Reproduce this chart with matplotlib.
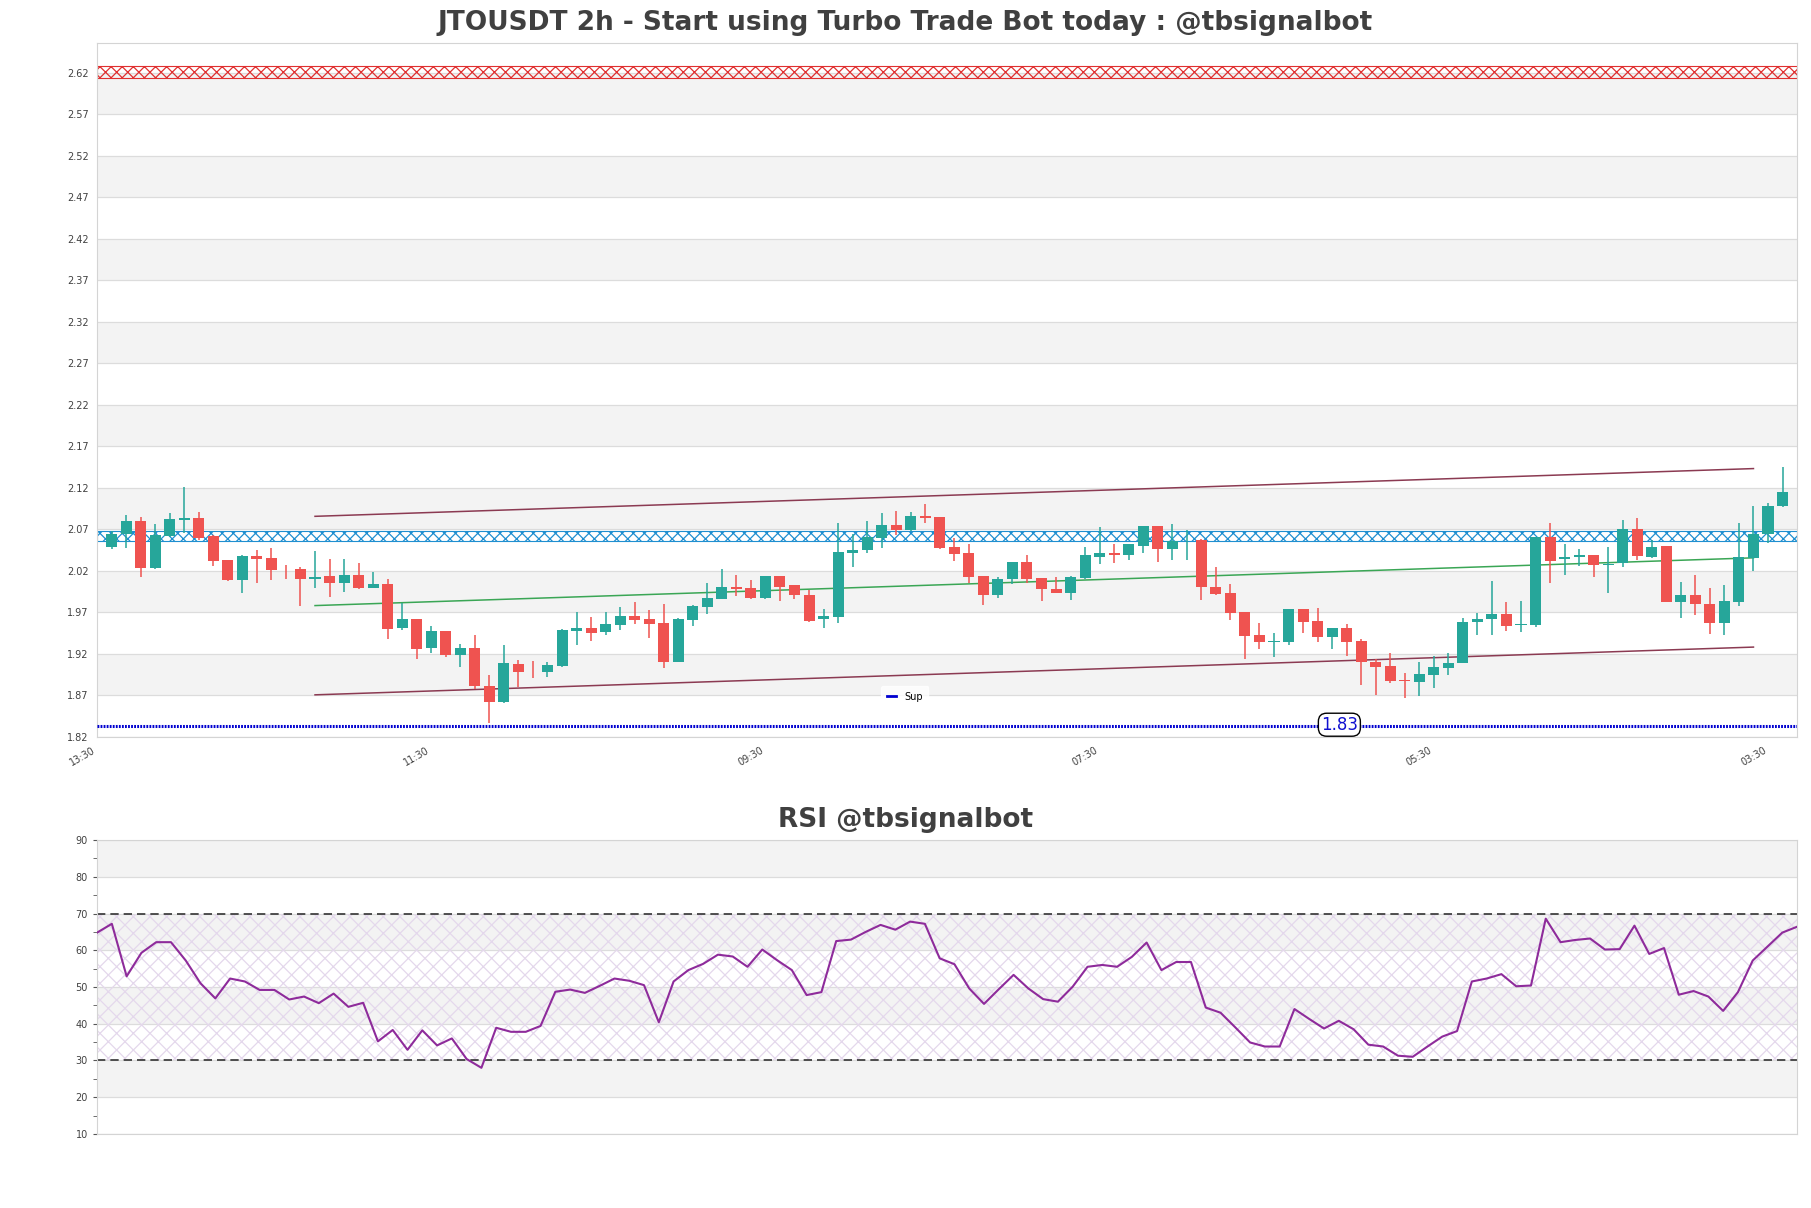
import numpy as np
import matplotlib.pyplot as plt
from matplotlib.ticker import MultipleLocator

title = "JTOUSDT 2h - Start using Turbo Trade Bot today : @tbsignalbot"
rsi_title = "RSI @tbsignalbot"

# OHLC (116 candles, 2h)
opens = [2.0489, 2.0638, 2.0798, 2.0236, 2.0622, 2.0814, 2.0830, 2.0618, 2.0328, 2.0088,
         2.0377, 2.0353, 2.0224, 2.0220, 2.0100, 2.0136, 2.0055, 2.0148, 1.9995, 2.0039,
         1.9509, 1.9614, 1.9268, 1.9473, 1.9188, 1.9268, 1.8810, 1.8618, 1.9075, 1.8995,
         1.8983, 1.9051, 1.9477, 1.9509, 1.9461, 1.9549, 1.9654, 1.9614, 1.9569, 1.9104,
         1.9606, 1.9766, 1.9863, 2.0007, 1.9991, 1.9875, 2.0136, 2.0023, 1.9907, 1.9614,
         1.9646, 2.0417, 2.0445, 2.0598, 2.0750, 2.0690, 2.0855, 2.0847, 2.0485, 2.0409,
         2.0136, 1.9911, 2.0104, 2.0304, 2.0112, 1.9975, 1.9935, 2.0112, 2.0369, 2.0413,
         2.0393, 2.0501, 2.0738, 2.0457, 2.0565, 2.0569, 2.0007, 1.9927, 1.9698, 1.9425,
         1.9341, 1.9345, 1.9734, 1.9594, 1.9405, 1.9505, 1.9353, 1.9096, 1.9051, 1.8879,
         1.8863, 1.8943, 1.9031, 1.9084, 1.9586, 1.9614, 1.9678, 1.9541, 1.9545, 2.0602,
         2.0337, 2.0361, 2.0385, 2.0268, 2.0288, 2.0698, 2.0369, 2.0497, 1.9826, 1.9903,
         1.9798, 1.9573, 1.9826, 2.0357, 2.0638, 2.0979]
highs = [2.0678, 2.0871, 2.0843, 2.0762, 2.0895, 2.1204, 2.0903, 2.0626, 2.0330, 2.0385,
         2.0449, 2.0469, 2.0268, 2.0240, 2.0441, 2.0341, 2.0341, 2.0288, 2.0184, 2.0100,
         1.9814, 1.9614, 1.9533, 1.9473, 1.9316, 1.9425, 1.8943, 1.9304, 1.9124, 1.9112,
         1.9100, 1.9493, 1.9702, 1.9646, 1.9702, 1.9766, 1.9818, 1.9726, 1.9798, 1.9626,
         1.9786, 2.0047, 2.0224, 2.0148, 2.0088, 2.0136, 2.0136, 2.0023, 1.9967, 1.9734,
         2.0770, 2.0642, 2.0798, 2.0891, 2.0919, 2.0907, 2.1003, 2.0847, 2.0590, 2.0517,
         2.0136, 2.0128, 2.0304, 2.0389, 2.0112, 2.0120, 2.0136, 2.0481, 2.0722, 2.0517,
         2.0517, 2.0738, 2.0738, 2.0762, 2.0690, 2.0577, 2.0240, 2.0039, 1.9698, 1.9565,
         1.9445, 1.9734, 1.9742, 1.9746, 1.9505, 1.9557, 1.9373, 1.9132, 1.9204, 1.8963,
         1.9096, 1.9176, 1.9204, 1.9626, 1.9686, 2.0075, 1.9818, 1.9835, 2.0602, 2.0778,
         2.0517, 2.0457, 2.0385, 2.0481, 2.0810, 2.0830, 2.0569, 2.0497, 2.0063, 2.0144,
         1.9995, 2.0027, 2.0778, 2.0979, 2.1011, 2.1453]
lows = [2.0457, 2.0477, 2.0128, 2.0216, 2.0610, 2.0650, 2.0569, 2.0256, 2.0080, 1.9935,
        2.0055, 2.0088, 2.0096, 1.9774, 1.9991, 1.9883, 1.9943, 1.9983, 1.9991, 1.9377,
        1.9485, 1.9136, 1.9204, 1.9164, 1.9043, 1.8770, 1.8369, 1.8610, 1.8794, 1.8907,
        1.8923, 1.9043, 1.9304, 1.9353, 1.9425, 1.9485, 1.9557, 1.9393, 1.9031, 1.9096,
        1.9533, 1.9678, 1.9859, 1.9899, 1.9863, 1.9863, 1.9839, 1.9863, 1.9586, 1.9505,
        1.9573, 2.0248, 2.0409, 2.0477, 2.0630, 2.0682, 2.0770, 2.0465, 2.0320, 2.0047,
        1.9786, 1.9871, 2.0035, 2.0055, 1.9835, 1.9931, 1.9847, 2.0104, 2.0280, 2.0288,
        2.0328, 2.0409, 2.0308, 2.0328, 2.0328, 1.9847, 1.9907, 1.9606, 1.9132, 1.9252,
        1.9164, 1.9304, 1.9453, 1.9345, 1.9252, 1.9176, 1.8822, 1.8702, 1.8843, 1.8662,
        1.8694, 1.8790, 1.8943, 1.9084, 1.9425, 1.9425, 1.9477, 1.9465, 1.9525, 2.0055,
        2.0148, 2.0256, 2.0128, 1.9935, 2.0240, 2.0328, 2.0349, 1.9826, 1.9634, 1.9666,
        1.9437, 1.9425, 1.9774, 2.0200, 2.0537, 2.0971]
closes = [2.0642, 2.0798, 2.0236, 2.0630, 2.0822, 2.0834, 2.0598, 2.0320, 2.0088, 2.0377,
          2.0345, 2.0208, 2.0216, 2.0104, 2.0124, 2.0055, 2.0144, 1.9995, 2.0039, 1.9497,
          1.9614, 1.9256, 1.9473, 1.9188, 1.9268, 1.8810, 1.8618, 1.9092, 1.8983, 1.8987,
          1.9059, 1.9485, 1.9509, 1.9453, 1.9557, 1.9654, 1.9606, 1.9561, 1.9104, 1.9614,
          1.9774, 1.9867, 2.0007, 1.9983, 1.9875, 2.0136, 2.0007, 1.9903, 1.9598, 1.9654,
          2.0421, 2.0449, 2.0606, 2.0750, 2.0690, 2.0859, 2.0834, 2.0477, 2.0405, 2.0128,
          1.9911, 2.0100, 2.0304, 2.0104, 1.9975, 1.9935, 2.0124, 2.0385, 2.0413, 2.0393,
          2.0517, 2.0738, 2.0457, 2.0561, 2.0573, 1.9999, 1.9919, 1.9694, 1.9417, 1.9345,
          1.9349, 1.9734, 1.9586, 1.9405, 1.9505, 1.9345, 1.9096, 1.9043, 1.8875, 1.8871,
          1.8955, 1.9043, 1.9084, 1.9586, 1.9614, 1.9678, 1.9537, 1.9557, 2.0602, 2.0320,
          2.0361, 2.0385, 2.0264, 2.0276, 2.0698, 2.0377, 2.0481, 1.9826, 1.9903, 1.9794,
          1.9573, 1.9835, 2.0361, 2.0638, 2.0979, 2.1148]

rsi = [64.8, 67.2, 52.9, 59.3, 62.2, 62.2, 57.2, 51.0, 46.9, 52.3,
       51.5, 49.2, 49.2, 46.6, 47.4, 45.6, 48.2, 44.6, 45.7, 35.2,
       38.3, 32.9, 38.2, 34.1, 36.0, 30.4, 28.0, 38.9, 37.8, 37.8,
       39.4, 48.7, 49.3, 48.4, 50.3, 52.3, 51.7, 50.5, 40.4, 51.5,
       54.6, 56.3, 58.8, 58.3, 55.5, 60.2, 57.3, 54.6, 47.8, 48.6,
       62.5, 62.9, 65.0, 66.9, 65.6, 67.8, 67.2, 57.8, 56.2, 49.6,
       45.4, 49.4, 53.3, 49.6, 46.7, 46.0, 50.1, 55.5, 56.0, 55.5,
       58.2, 62.1, 54.6, 56.8, 56.8, 44.4, 43.0, 39.0, 34.9, 33.8,
       33.8, 44.0, 41.3, 38.7, 40.8, 38.5, 34.3, 33.8, 31.3, 31.0,
       33.8, 36.5, 38.0, 51.5, 52.3, 53.5, 50.2, 50.4, 68.6, 62.2,
       62.8, 63.2, 60.2, 60.3, 66.7, 59.0, 60.6, 47.9, 48.9, 47.4,
       43.5, 48.6, 57.2, 61.0, 64.8, 66.4]

time_labels = ["13:30", "11:30", "09:30", "07:30", "05:30", "03:30"]
label_step = 23

resistance_zone = (2.614, 2.628)
pivot_zone = (2.056, 2.068)
support = 1.8335
support_text = "1.83"

channel_x = (15, 114)
channel_upper = (2.0855, 2.1430)
channel_mid = (1.9780, 2.0355)
channel_lower = (1.8705, 1.9280)

UP = "#26a69a"
DOWN = "#ef5350"
BAND = "#f3f3f3"
GRID = "#dcdcdc"
TXT = "#404040"

fig = plt.figure(figsize=(18.11, 12.08), dpi=100)
ax = fig.add_axes([0.0536, 0.3901, 0.9387, 0.5739])
ax2 = fig.add_axes([0.0536, 0.0613, 0.9387, 0.2433])

# ---- price panel
n = len(opens)
x = np.arange(1, n + 1)
yt = np.round(np.arange(1.82, 2.621, 0.05), 2)
for i in range(len(yt) - 1):
    if i % 2 == 1:
        ax.axhspan(yt[i], yt[i + 1], color=BAND, zorder=0, lw=0)
for v in yt:
    ax.axhline(v, color=GRID, lw=0.9, zorder=0.5)

plt.rcParams["hatch.linewidth"] = 0.9
ax.axhspan(*resistance_zone, facecolor="none", edgecolor="#e03030", hatch="xxx", lw=0.8, zorder=1)
ax.axhspan(*pivot_zone, facecolor="none", edgecolor="#1f8fd0", hatch="xxx", lw=0.8, zorder=1)

for xi, o, h, l, c in zip(x, opens, highs, lows, closes):
    col = UP if c >= o else DOWN
    ax.vlines(xi, l, h, color=col, lw=1.1, zorder=3)
    bot = min(o, c)
    hgt = max(abs(c - o), 0.0006)
    ax.bar(xi, hgt, bottom=bot, width=0.76, color=col, lw=0, zorder=4)

ax.plot(channel_x, channel_upper, color="#8b3a52", lw=1.1, zorder=2)
ax.plot(channel_x, channel_mid, color="#3aa655", lw=1.1, zorder=2)
ax.plot(channel_x, channel_lower, color="#8b3a52", lw=1.1, zorder=2)

ax.axhline(support, color="#0000d0", lw=2.2, ls=(0, (0.6, 0.4)), zorder=5, label="Sup")
ax.text(85.5, support + 0.001, support_text, color="#1010d0", fontsize=12, ha="center", va="center",
        zorder=6, bbox=dict(boxstyle="round,pad=0.15,rounding_size=0.5", fc="white", ec="black", lw=1))

leg = ax.legend(loc="lower center", bbox_to_anchor=(0.475, 0.035), fontsize=7, frameon=True,
                handlelength=1.0, borderpad=0.6)
leg.get_frame().set_edgecolor("white")
for line in leg.get_lines():
    line.set_linestyle("-")
    line.set_linewidth(2)

ax.set_xlim(0, n + 1)
ax.set_ylim(1.82, 2.655)
ax.set_yticks(yt)
ax.set_yticklabels([f"{v:.2f}" for v in yt])
ticks = np.arange(0, n, label_step)
ax.set_xticks(ticks)
ax.set_xticklabels(time_labels, rotation=30, ha="right")
ax.tick_params(axis="both", labelsize=7, colors=TXT, length=0, pad=6)

# ---- RSI panel
xr = np.arange(len(rsi))
for i, lo in enumerate(range(10, 90, 10)):
    if i % 2 == 1:
        ax2.axhspan(lo, lo + 10, color=BAND, zorder=0, lw=0)
for v in range(10, 91, 10):
    ax2.axhline(v, color=GRID, lw=0.9, zorder=0.5)
ax2.axhspan(30, 70, facecolor="none", edgecolor="#e4d8ec", hatch="xx", lw=0, zorder=1)
ax2.axhline(70, color="#333333", lw=1.2, ls=(0, (5, 3)), zorder=2)
ax2.axhline(30, color="#333333", lw=1.2, ls=(0, (5, 3)), zorder=2)
ax2.plot(xr, rsi, color="#8e2b9b", lw=1.5, zorder=3)

ax2.set_xlim(0, len(rsi) - 1)
ax2.set_ylim(10, 90)
ax2.set_yticks(range(10, 91, 10))
ax2.yaxis.set_minor_locator(MultipleLocator(5))
ax2.set_xticks([])
ax2.tick_params(axis="y", which="both", labelsize=7, colors=TXT, length=3, color="#555555")

for a in (ax, ax2):
    for s in a.spines.values():
        s.set_color("#d4d4d4")

fig.text(0.5, 0.981, title, ha="center", va="center", fontsize=19, fontweight="bold", color=TXT)
fig.text(0.5, 0.321, rsi_title, ha="center", va="center", fontsize=19, fontweight="bold", color=TXT)

fig.savefig("out.png", dpi=100, facecolor="white")
